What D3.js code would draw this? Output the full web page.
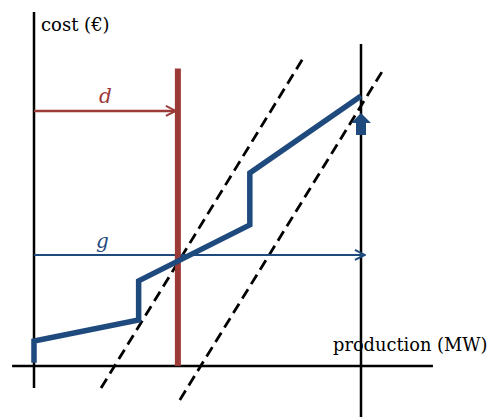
<!DOCTYPE html>
<html><head><meta charset="utf-8">
<script src="https://cdn.jsdelivr.net/npm/d3@7"></script>
<style>body{margin:0;background:#fff}svg{display:block}</style>
</head><body>
<script>
// Data (arbitrary units: production 0..100, cost 0..100)
const supplyX = [0, 0, 32, 32, 66, 66, 100];
const supplyY = [1, 7.8, 14.4, 26.6, 44.1, 60.3, 84.4];
const demandX = 44;           // red vertical (demand d)
const demandTop = 93;
const dArrowY = 79.7;         // d arrow level
const gArrowY = 34.7;         // g arrow level
const gArrowEnd = 101.2;
const capacityX = 100;        // right vertical line
const dash1 = [[20.5, -6.9], [82.9, 97.2]];
const dash2 = [[44.6, -10.6], [107.3, 93.4]];
const upArrow = [72.2, 79.1];
const labels = {y: "cost (€)", x: "production (MW)", d: "d", g: "g"};

const W = 491, H = 417;
const red = "#9b3a37", blue = "#1f4a7e";
const x = d3.scaleLinear().domain([0, 100]).range([34, 361]);
const y = d3.scaleLinear().domain([0, 100]).range([366, 46]);

const svg = d3.select("body").append("svg").attr("width", W).attr("height", H);
const defs = svg.append("defs");
function marker(id, color) {
  defs.append("marker").attr("id", id).attr("viewBox", "0 0 12 12")
    .attr("refX", 11).attr("refY", 6).attr("markerWidth", 12).attr("markerHeight", 12)
    .attr("markerUnits", "userSpaceOnUse").attr("orient", "auto")
    .append("path").attr("d", "M1,1 L11,6 L1,11").attr("fill", "none")
    .attr("stroke", color).attr("stroke-width", 2);
}
marker("mr", red); marker("mb", blue);

// axes
svg.append("line").attr("x1", x(0)).attr("x2", x(0)).attr("y1", y(110.6)).attr("y2", y(-6.9))
  .attr("stroke", "#000").attr("stroke-width", 2.5);
svg.append("line").attr("x1", x(-6.7)).attr("x2", x(122)).attr("y1", y(0)).attr("y2", y(0))
  .attr("stroke", "#000").attr("stroke-width", 2.5);
svg.append("line").attr("x1", x(capacityX)).attr("x2", x(capacityX)).attr("y1", y(100.6)).attr("y2", y(-16))
  .attr("stroke", "#000").attr("stroke-width", 2.5);

// dashed lines
[dash1, dash2].forEach(p => {
  svg.append("line").attr("x1", x(p[0][0])).attr("y1", y(p[0][1])).attr("x2", x(p[1][0])).attr("y2", y(p[1][1]))
    .attr("stroke", "#000").attr("stroke-width", 2.8).attr("stroke-dasharray", "11,6");
});

// d arrow
svg.append("line").attr("x1", x(0)).attr("x2", x(demandX) - 2).attr("y1", y(dArrowY)).attr("y2", y(dArrowY))
  .attr("stroke", red).attr("stroke-width", 2.5).attr("marker-end", "url(#mr)");
// g arrow
svg.append("line").attr("x1", x(0)).attr("x2", x(gArrowEnd)).attr("y1", y(gArrowY)).attr("y2", y(gArrowY))
  .attr("stroke", blue).attr("stroke-width", 2).attr("marker-end", "url(#mb)");

// red demand line
svg.append("line").attr("x1", x(demandX)).attr("x2", x(demandX)).attr("y1", y(0)).attr("y2", y(demandTop))
  .attr("stroke", red).attr("stroke-width", 6);

// supply curve
const pts = supplyX.map((v, i) => [v, supplyY[i]]);
svg.append("path").attr("d", d3.line().x(d => x(d[0])).y(d => y(d[1]))(pts))
  .attr("fill", "none").attr("stroke", blue).attr("stroke-width", 5.5).attr("stroke-linejoin", "miter");

// up block arrow
const ax = x(capacityX), ab = y(upArrow[0]), at = y(upArrow[1]);
svg.append("path").attr("d",
  `M${ax - 5},${ab} L${ax - 5},${at + 10} L${ax - 10},${at + 10} L${ax},${at} L${ax + 10},${at + 10} L${ax + 5},${at + 10} L${ax + 5},${ab} Z`)
  .attr("fill", blue);

// texts
const font = "'DejaVu Serif', serif";
svg.append("text").attr("x", 41).attr("y", 31).attr("font-family", font).attr("font-size", 18).text(labels.y);
svg.append("text").attr("x", 333).attr("y", 351).attr("font-family", font).attr("font-size", 17.8).text(labels.x);
svg.append("text").attr("x", 99).attr("y", 103).attr("font-family", font).attr("font-style", "italic")
  .attr("font-size", 20).attr("fill", red).text(labels.d);
svg.append("text").attr("x", 96).attr("y", 248).attr("font-family", font).attr("font-style", "italic")
  .attr("font-size", 20).attr("fill", blue).text(labels.g);
</script>
</body></html>
